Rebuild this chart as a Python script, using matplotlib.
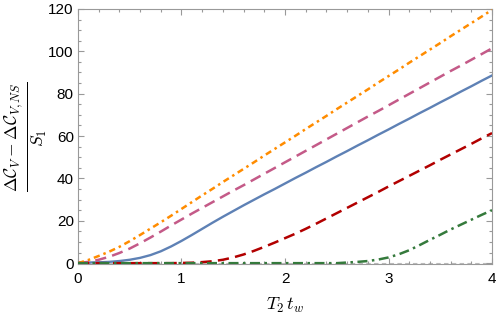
import numpy as np
import matplotlib
matplotlib.use("Agg")
import matplotlib.pyplot as plt
from matplotlib.ticker import MultipleLocator

plt.rcParams['font.family'] = ['Liberation Sans', 'DejaVu Sans']
plt.rcParams['mathtext.fontset'] = 'cm'

tw = [round(0.1 * i, 1) for i in range(41)]
orange = [0.0, 1.5, 3.4, 5.4, 7.7, 10.4, 13.3, 16.3, 19.3, 22.4, 25.6,
          28.8, 32.0, 35.1, 38.3, 41.4, 44.5, 47.6, 50.8, 53.9, 57.0,
          60.1, 63.3, 66.4, 69.5, 72.7, 75.8, 78.9, 82.0, 85.2, 88.3,
          91.4, 94.6, 97.7, 100.8, 103.9, 107.1, 110.2, 113.3, 116.4, 119.6]
pink = [0.0, 0.6, 1.6, 3.0, 4.8, 6.9, 9.4, 12.1, 14.9, 17.8, 20.6,
        23.4, 26.1, 28.8, 31.5, 34.2, 36.8, 39.5, 42.2, 44.9, 47.6,
        50.3, 53.0, 55.7, 58.4, 61.1, 63.8, 66.5, 69.2, 71.8, 74.5,
        77.2, 79.9, 82.6, 85.3, 88.0, 90.7, 93.3, 96.0, 98.7, 101.4]
blue = [0.3, 0.3, 0.4, 0.6, 1.0, 1.6, 2.5, 3.8, 5.6, 7.9, 10.5,
        13.3, 16.2, 19.1, 21.9, 24.6, 27.3, 29.9, 32.5, 35.0, 37.6,
        40.2, 42.7, 45.3, 47.8, 50.4, 52.9, 55.5, 58.0, 60.6, 63.1,
        65.7, 68.2, 70.8, 73.3, 75.9, 78.4, 81.0, 83.5, 86.1, 88.6]
red = [0.0, 0.0, 0.0, 0.0, 0.0, 0.0, 0.0, 0.0, 0.0, 0.0, 0.1,
       0.2, 0.5, 0.9, 1.6, 2.7, 4.1, 5.8, 7.7, 9.7, 11.8,
       13.9, 16.2, 18.6, 21.1, 23.6, 26.1, 28.6, 31.1, 33.6, 36.2,
       38.7, 41.2, 43.7, 46.2, 48.8, 51.3, 53.8, 56.3, 58.9, 61.4]
green = [0.0, 0.0, 0.0, 0.0, 0.0, 0.0, 0.0, 0.0, 0.0, 0.0, 0.0,
         0.0, 0.0, 0.0, 0.0, 0.0, 0.0, 0.0, 0.0, 0.0, 0.0,
         0.0, 0.0, 0.0, 0.0, 0.0, 0.3, 0.6, 1.0, 1.7, 2.7,
         4.2, 6.1, 8.5, 11.0, 13.4, 15.9, 18.2, 20.5, 22.8, 25.0]

fig = plt.figure(figsize=(4.98, 3.19), dpi=100)
ax = fig.add_axes([0.1566, 0.1724, 0.8314, 0.7996])

ax.axhline(0, color='#bbbbbb', lw=0.8, dashes=(4, 3), zorder=1)
ax.plot(tw, blue, color='#5E81B5', lw=1.7, zorder=3)
ax.plot(tw, pink, color='#C45A88', lw=1.8, dashes=(4.5, 2.5), zorder=3)
ax.plot(tw, orange, color='#FF8C00', lw=1.8, dashes=(2.5, 1.6, 1, 1.6), zorder=3)
ax.plot(tw, red, color='#B20000', lw=1.8, dashes=(4.5, 2.5), zorder=3)
ax.plot(tw, green, color='#357A3C', lw=1.8, dashes=(4, 1.8, 1, 1.8), zorder=3)

ax.set_xlim(0, 4)
ax.set_ylim(-0.4, 120)
ax.xaxis.set_major_locator(MultipleLocator(1))
ax.xaxis.set_minor_locator(MultipleLocator(0.2))
ax.yaxis.set_major_locator(MultipleLocator(20))
ax.yaxis.set_minor_locator(MultipleLocator(5))
ax.tick_params(which='both', direction='in', top=True, right=True,
               color='#999999', width=0.8, labelsize=11)
ax.tick_params(which='major', length=4.5)
ax.tick_params(which='minor', length=2.5)
ax.tick_params(axis='x', pad=6)
ax.tick_params(axis='y', pad=3)
for s in ax.spines.values():
    s.set_color('#999999')
    s.set_linewidth(0.8)

ax.set_xlabel(r'$T_2\,t_w$', fontsize=13, labelpad=7)
fig.text(27 / 498, 1 - 136.5 / 319,
         r'$\frac{\Delta\mathcal{C}_V-\Delta\mathcal{C}_{V,NS}}{S_1}$',
         fontsize=18, rotation=90, ha='center', va='center')

fig.savefig('out.png', dpi=100)
